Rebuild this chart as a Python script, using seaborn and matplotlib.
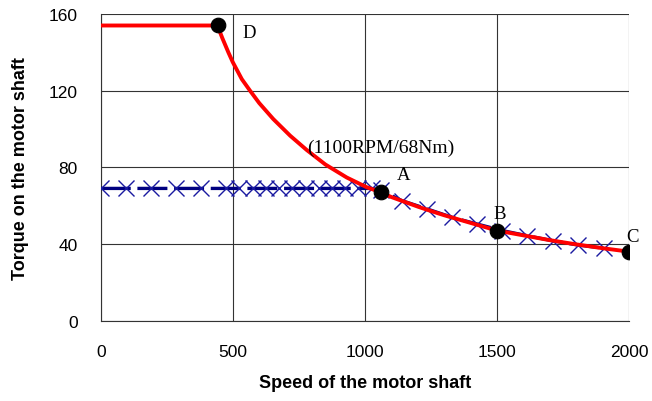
import numpy as np
import pandas as pd
import matplotlib
matplotlib.use("Agg")
import matplotlib.pyplot as plt
import seaborn as sns

# Red curve: torque limit (speed, torque)
red_speed = [0, 100, 200, 300, 400, 442, 450, 460, 483, 500, 534, 565, 600, 653,
             717, 780, 850, 931, 1007, 1060, 1100, 1150, 1200, 1250, 1300, 1350,
             1400, 1450, 1500, 1600, 1700, 1800, 1900, 2000]
red_torque = [154, 154, 154, 154, 154, 154, 151, 147.5, 140, 134.8, 126, 120, 113.5, 105.2,
              96.5, 89, 81.5, 74.7, 69.6, 67, 64.5, 62, 59.5, 57.2, 55, 53,
              51, 49, 47, 44.5, 42, 39.8, 37.8, 36]

# Blue series: operating points (speed, torque)
blue_speed = [0, 95, 190, 285, 380, 475, 525, 575, 625, 675, 725, 775, 825, 875, 925,
              975, 1025, 1060, 1140, 1235, 1330, 1425, 1520, 1615, 1710, 1805, 1905]
blue_torque = [69, 69, 69, 69, 69, 69, 69, 69, 69, 69, 69, 69, 69, 69, 69,
               69, 69, 68, 62.6, 58.3, 53.9, 50.4, 47, 44.3, 41.7, 39.5, 37.8]

# Key points
pt_speed = [445, 1060, 1500, 2000]
pt_torque = [154, 67, 47, 36]
pt_label = ["D", "A", "B", "C"]
lab_x = [535, 1120, 1485, 1990]
lab_y = [150.6, 76.1, 56, 44]

annot_text = "(1100RPM/68Nm)"

x_ticks = [0, 500, 1000, 1500, 2000]
y_ticks = [0, 40, 80, 120, 160]

sns.set_style("white")
plt.rcParams['font.family'] = ['Liberation Sans', 'DejaVu Sans']
plt.rcParams['text.color'] = 'black'
plt.rcParams['axes.labelcolor'] = 'black'
plt.rcParams['xtick.color'] = 'black'
plt.rcParams['ytick.color'] = 'black'

fig = plt.figure(figsize=(6.52, 4.02), dpi=100)
ax = fig.add_axes([0.1545, 0.1998, 0.965 - 0.1545, 0.9627 - 0.1998])

red_df = pd.DataFrame({"speed": red_speed, "torque": red_torque})
blue_df = pd.DataFrame({"speed": blue_speed, "torque": blue_torque})
pt_df = pd.DataFrame({"speed": pt_speed, "torque": pt_torque})

for v in x_ticks:
    ax.axvline(v, color="#333333", lw=0.8, zorder=0)
for v in y_ticks:
    ax.axhline(v, color="#333333", lw=0.8, zorder=0)

sns.lineplot(data=blue_df, x="speed", y="torque", ax=ax, color="#000080", lw=2.4,
             linestyle=(0, (9, 2)), marker="x", markersize=11, markeredgewidth=1.0,
             markeredgecolor="#1a1aa0", sort=False, zorder=3)
sns.lineplot(data=red_df, x="speed", y="torque", ax=ax, color="#ff0000", lw=2.8,
             sort=False, zorder=4)
sns.scatterplot(data=pt_df, x="speed", y="torque", ax=ax, color="black", s=110,
                edgecolor="black", zorder=5)

for t, x, y in zip(pt_label, lab_x, lab_y):
    ax.text(x, y, t, family="Liberation Serif", fontsize=13.5, ha="left", va="center",
            color="black", zorder=6)
ax.text(1060, 90.5, annot_text, family="Liberation Serif", fontsize=14, ha="center",
        va="center", color="black", zorder=6)

ax.set_xlim(0, 2000)
ax.set_ylim(0, 160)
ax.set_xticks(x_ticks)
ax.set_yticks(y_ticks)
ax.tick_params(axis="both", direction="out", length=6.5, width=0.8, color="#333333",
               labelcolor="black", labelsize=12.5, pad=10)
ax.tick_params(axis="x", pad=10)
for s in ax.spines.values():
    s.set_visible(False)
ax.spines["left"].set_visible(True)
ax.spines["bottom"].set_visible(True)
ax.spines["left"].set_color("#333333")
ax.spines["bottom"].set_color("#333333")

ax.set_xlabel("Speed of the motor shaft", fontsize=13, fontweight="bold", labelpad=11,
              color="black")
ax.set_ylabel("Torque on the motor shaft", fontsize=13, fontweight="bold", labelpad=14,
              color="black")
ax.legend_ = None

fig.savefig("out.png", dpi=100)
